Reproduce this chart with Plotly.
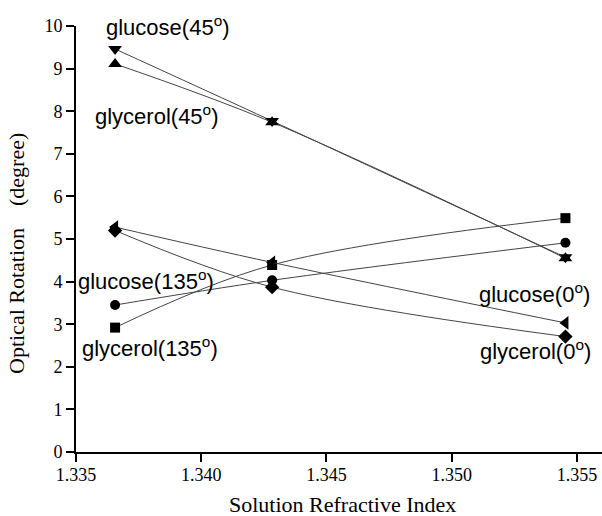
import plotly.graph_objects as go

# Solution refractive index for the three measured solutions
refractive_index = [1.33656, 1.34283, 1.35454]

# Optical rotation (degree) for each solute / polarizer angle
glucose_45 = [9.46, 7.77, 4.57]
glycerol_45 = [9.11, 7.74, 4.55]
glucose_135 = [3.45, 4.03, 4.91]
glycerol_135 = [2.92, 4.39, 5.49]
glucose_0 = [5.28, 4.45, 3.03]
glycerol_0 = [5.20, 3.87, 2.71]

series = [
    ("glucose(45°)", glucose_45, "triangle-down", 12),
    ("glycerol(45°)", glycerol_45, "triangle-up", 12),
    ("glucose(135°)", glucose_135, "circle", 10),
    ("glycerol(135°)", glycerol_135, "square", 10),
    ("glucose(0°)", glucose_0, "triangle-left", 12),
    ("glycerol(0°)", glycerol_0, "diamond", 11),
]

fig = go.Figure()
for name, vals, sym, size in series:
    fig.add_trace(go.Scatter(
        x=refractive_index, y=vals, name=name, mode="lines+markers",
        line=dict(color="#444444", width=1, shape="spline", smoothing=1),
        marker=dict(symbol=sym, size=size, color="black"),
        showlegend=False,
    ))

label_font = dict(family="Liberation Sans, Arial, sans-serif", size=22, color="black")
labels = [
    ("glucose(45<sup>o</sup>)", 1.33868, 10.0),
    ("glycerol(45<sup>o</sup>)", 1.33824, 7.91),
    ("glucose(135<sup>o</sup>)", 1.33780, 4.04),
    ("glycerol(135<sup>o</sup>)", 1.33796, 2.46),
    ("glucose(0<sup>o</sup>)", 1.35330, 3.73),
    ("glycerol(0<sup>o</sup>)", 1.35334, 2.39),
]
for text, x, y in labels:
    fig.add_annotation(x=x, y=y, text=text, showarrow=False, font=label_font,
                       xanchor="center", yanchor="middle")

serif = "Liberation Serif, Times New Roman, serif"
fig.add_annotation(xref="paper", yref="paper", x=0.506, y=-0.124,
                   text="Solution Refractive Index", showarrow=False,
                   font=dict(family=serif, size=22, color="black"),
                   xanchor="center", yanchor="middle")
fig.add_annotation(xref="paper", yref="paper", x=-0.112, y=0.465,
                   text="Optical Rotation\u00a0\u00a0\u00a0\u00a0(degree)", textangle=-90,
                   showarrow=False, font=dict(family=serif, size=22, color="black"),
                   xanchor="center", yanchor="middle")

fig.update_xaxes(range=[1.335, 1.356], tickvals=[1.335, 1.340, 1.345, 1.350, 1.355],
                 ticktext=["1.335", "1.340", "1.345", "1.350", "1.355"],
                 showline=True, linewidth=2, linecolor="black", ticks="outside",
                 ticklen=8, tickwidth=2, tickcolor="black", showgrid=False, zeroline=False,
                 ticklabelstandoff=-3,
                 tickfont=dict(family=serif, size=18, color="black"))
fig.update_yaxes(range=[0, 10], tickvals=list(range(0, 11)),
                 showline=True, linewidth=2, linecolor="black", ticks="outside",
                 ticklen=8, tickwidth=2, tickcolor="black", showgrid=False, zeroline=False,
                 tickfont=dict(family=serif, size=18, color="black"))

fig.update_layout(width=602, height=516, margin=dict(l=76, r=0, t=26, b=64),
                  plot_bgcolor="white", paper_bgcolor="white")

fig.write_html("out.html")
